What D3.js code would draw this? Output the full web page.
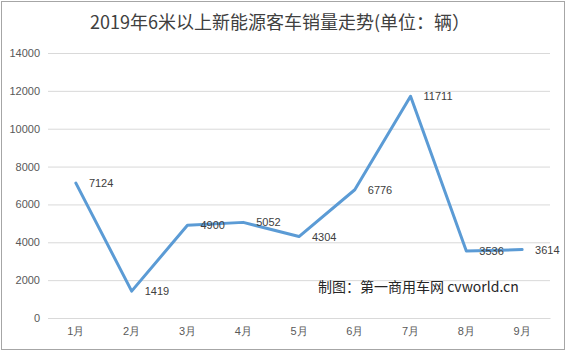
<!DOCTYPE html>
<html><head><meta charset="utf-8">
<script src="https://cdn.jsdelivr.net/npm/d3@7"></script>
<style>body{margin:0;background:#fff}svg{display:block;font-family:"Microsoft YaHei","Noto Sans CJK SC",sans-serif}</style>
</head><body><svg id="c" width="568" height="353"></svg>
<script>
const categories = ["1月","2月","3月","4月","5月","6月","7月","8月","9月"];
const values = [7124,1419,4900,5052,4304,6776,11711,3536,3614];
const yTicks = [0,2000,4000,6000,8000,10000,12000,14000];
const title = "2019年6米以上新能源客车销量走势(单位：辆）";
const note = "制图：第一商用车网 cvworld.cn";

const svg = d3.select("#c");
const m = {l:48, r:18, t:53, b:35};
const W = 568, H = 353;
svg.append("rect").attr("x",1.5).attr("y",1.5).attr("width",563).attr("height",348)
  .attr("fill","#fff").attr("stroke","#a6a6a6");

const x = d3.scaleBand().domain(categories).range([m.l, 550]);
const y = d3.scaleLinear().domain([0,14000]).range([318, 53]);

svg.append("text").attr("x",280).attr("y",29).attr("text-anchor","middle")
  .attr("font-size",18).attr("fill","#404040").text(title);

const ga = svg.append("g").attr("transform",`translate(${m.l},0)`)
  .call(d3.axisLeft(y).tickValues(yTicks).tickSize(-(550-m.l)).tickPadding(8).tickFormat(d3.format("d")));
ga.select(".domain").remove();
ga.selectAll(".tick line").attr("stroke","#d9d9d9");
ga.selectAll(".tick text").attr("fill","#595959").attr("font-size",11).attr("font-family","Liberation Sans, Arial, sans-serif");

const gx = svg.append("g").attr("transform",`translate(0,318)`)
  .call(d3.axisBottom(x).tickSize(0).tickPadding(9));
gx.select(".domain").attr("stroke","#d9d9d9");
gx.selectAll(".tick text").attr("fill","#595959").attr("font-size",11);

const line = d3.line().x((d,i)=>x(categories[i])+x.bandwidth()/2).y(d=>y(d));
svg.append("path").datum(values).attr("d",line).attr("fill","none")
  .attr("stroke","#5b9bd5").attr("stroke-width",3).attr("stroke-linejoin","round").attr("stroke-linecap","round");

svg.selectAll(".lbl").data(values).join("text").attr("class","lbl")
  .attr("x",(d,i)=>x(categories[i])+x.bandwidth()/2+13)
  .attr("y",d=>y(d)+4)
  .attr("font-size",11).attr("fill","#404040")
  .attr("font-family","Liberation Sans, Arial, sans-serif")
  .text(d=>d);

svg.append("text").attr("x",318).attr("y",292).attr("font-size",14).attr("fill","#262626").text(note);
</script></body></html>
